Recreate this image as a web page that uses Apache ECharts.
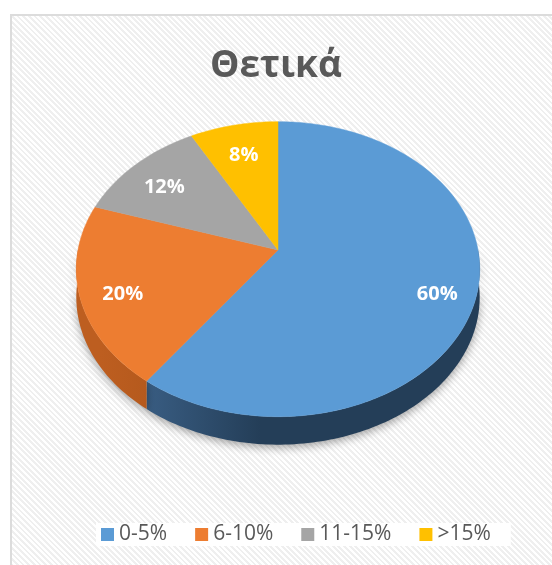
<!DOCTYPE html>
<html lang="el">
<head>
    <meta charset="UTF-8">
    <title>Θετικά</title>
    <script src="https://cdn.jsdelivr.net/npm/echarts@6/dist/echarts.min.js"></script>
</head>
<style>
html,body{margin:0;padding:0;background-color:#fff;overflow:hidden}
#frame{position:absolute;left:10px;top:14px;width:560px;height:570px;border:2px solid #dcdcdc;
    background:repeating-linear-gradient(45deg,#ffffff 0px,#ffffff 2px,#efefef 2px,#efefef 4px)}
#chartBox{position:absolute;left:0;top:0;width:552px;height:565px}
</style>
<body>
    <div id="frame"></div>
    <div id="chartBox"></div>
</body>
<script>
// data
const categories = ['0-5%', '6-10%', '11-15%', '>15%'];
const values = [60, 20, 12, 8];

const topColors = ['#5b9bd5', '#ed7d31', '#a5a5a5', '#ffc000'];
const sideColors = [['#416993', '#243e58'], ['#bd5e20', '#a24f17'], ['#7c7c7c', '#6a6a6a'], ['#bf9000', '#a67c00']];

// 3d pie geometry (tilted, with a little perspective)
const CX = 278, CY = 250, RX = 200, RY = 145, PERSP = 0.13, DEPTH = 28;
const total = values.reduce((a, b) => a + b, 0);

function pt(t, f) {
    let s = Math.sin(t), c = Math.cos(t), d = 1 + PERSP * f * c;
    return [CX + RX * f * s / d, CY - RY * f * c / d];
}
function arc(t0, t1, f) {
    let n = Math.max(2, Math.ceil((t1 - t0) / 0.02));
    let out = [];
    for (let k = 0; k <= n; k++) out.push(pt(t0 + (t1 - t0) * k / n, f));
    return out;
}

function renderSlice(params, api) {
    let i = params.seriesIndex;
    let before = values.slice(0, i).reduce((a, b) => a + b, 0);
    let start = before / total * Math.PI * 2;
    let end = start + api.value(0) / total * Math.PI * 2;
    let children = [];

    // outer wall, only the front half shows
    let s0 = Math.max(start, Math.PI / 2), s1 = Math.min(end, Math.PI * 1.5);
    if (s1 > s0) {
        let upper = arc(s0, s1, 1);
        let lower = upper.map(p => [p[0], p[1] + DEPTH]).reverse();
        children.push({
            type: 'polygon',
            z2: 1,
            shape: {points: upper.concat(lower)},
            style: {
                fill: new echarts.graphic.LinearGradient(100, 0, 260, 0, [
                    {offset: 0, color: sideColors[i][0]},
                    {offset: 1, color: sideColors[i][1]}
                ], true),
                shadowBlur: 8,
                shadowOffsetY: 3,
                shadowColor: 'rgba(0,0,0,0.35)'
            }
        });
    }
    // top face
    children.push({
        type: 'polygon',
        z2: 10,
        shape: {points: [[CX, CY]].concat(arc(start, end, 1))},
        style: {fill: topColors[i], stroke: topColors[i], lineWidth: 0.5}
    });
    // label
    let mid = pt((start + end) / 2, 0.8);
    children.push({
        type: 'text',
        z2: 20,
        style: {
            x: mid[0] + 2, y: mid[1] + 7,
            text: Math.round(api.value(0) / total * 100) + '%',
            fill: '#fff',
            fontSize: 20,
            fontWeight: 'bold',
            fontFamily: 'Open Sans',
            align: 'center',
            verticalAlign: 'middle'
        }
    });
    return {type: 'group', children: children};
}

let chartObj = echarts.init(document.getElementById('chartBox'));
chartObj.setOption({
    animation: false,
    color: topColors,
    title: {
        text: 'Θετικά',
        left: 271,
        textAlign: 'center',
        top: 43,
        textStyle: {
            color: '#595959',
            fontSize: 37,
            fontWeight: 'bold',
            fontFamily: 'Open Sans'
        }
    },
    legend: {
        left: 96,
        top: 523,
        padding: [1, 20, 1, 5],
        backgroundColor: '#fff',
        itemWidth: 13,
        itemHeight: 13,
        itemGap: 28,
        icon: 'rect',
        selectedMode: false,
        textStyle: {color: '#595959', fontSize: 21, fontFamily: 'Open Sans'},
        data: categories
    },
    series: categories.map((name, i) => ({
        type: 'custom',
        name: name,
        coordinateSystem: 'none',
        silent: true,
        renderItem: renderSlice,
        data: [[values[i]]]
    }))
});
</script>
</html>
